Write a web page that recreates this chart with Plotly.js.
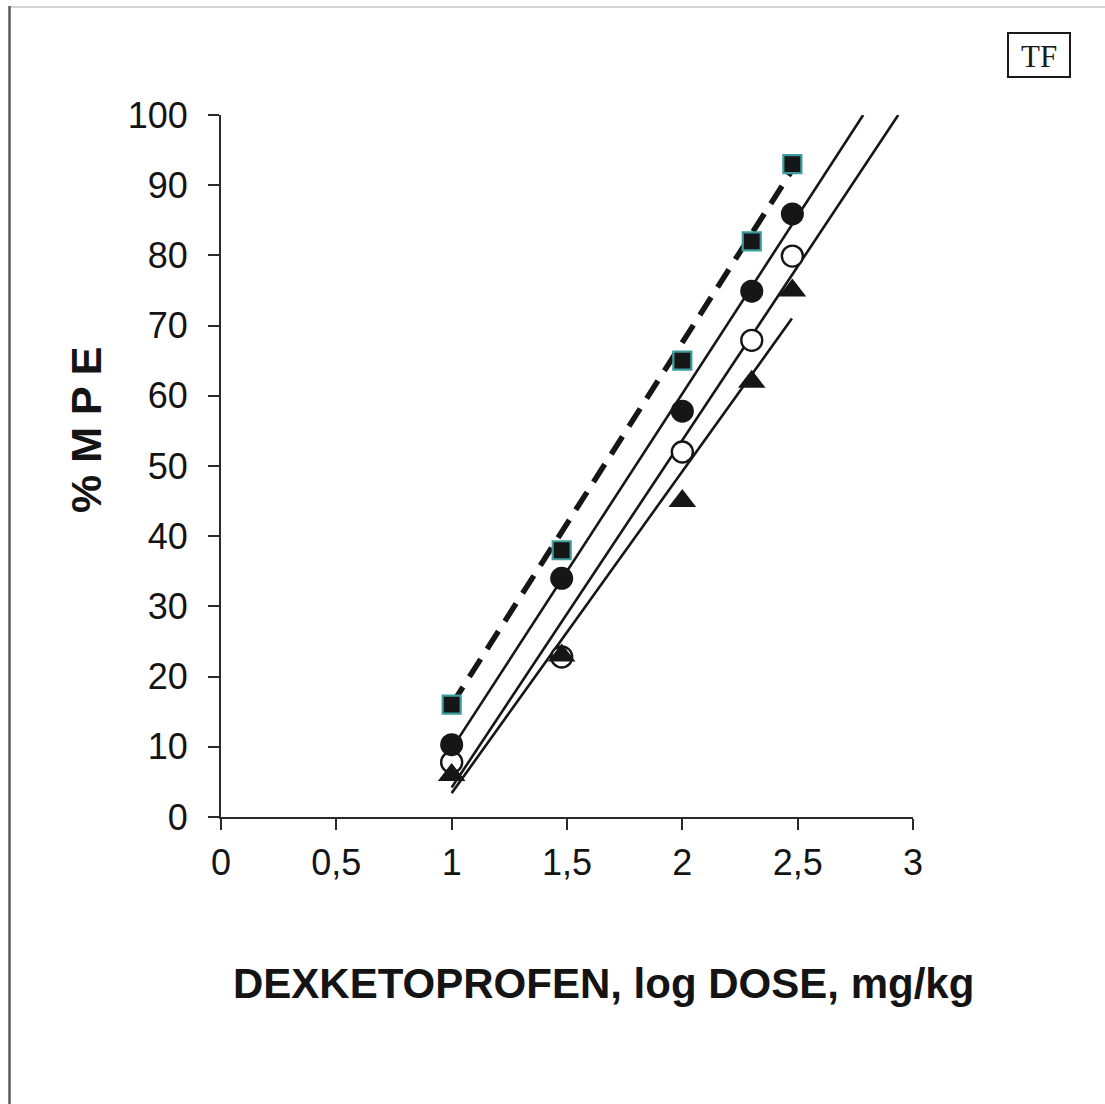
<!DOCTYPE html>
<html><head><meta charset="utf-8">
<script src="https://cdn.plot.ly/plotly-3.0.1.min.js"></script>
<style>
html,body{margin:0;padding:0;background:#fff;}
#chart{position:absolute;left:0;top:0;width:1105px;height:1104px;}
</style></head><body>
<div id="chart"></div>
<script>
// log dose (mg/kg): 10, 30, 100, 200, 300
const logDose = [1, 1.477, 2, 2.301, 2.477];
const squaresMPE = [16, 38, 65, 82, 93];
const filledCirclesMPE = [10.3, 34, 57.8, 74.9, 85.9];
const openCirclesMPE = [7.8, 22.8, 52, 67.9, 79.9];
const trianglesMPE = [6, 23, 45, 62, 75];

// regression lines, end points
const fitSquaresX = [1, 2.477];
const fitSquaresY = [16, 92.2];
const fitFilledX = [1, 2.784];
const fitFilledY = [9.7, 100];
const fitOpenX = [1, 2.936];
const fitOpenY = [4.2, 100];
const fitTriX = [1, 2.475];
const fitTriY = [3.4, 71];

const xTickVals = [0, 0.5, 1, 1.5, 2, 2.5, 3];
const xTickText = ['0', '0,5', '1', '1,5', '2', '2,5', '3'];
const yTickVals = [0, 10, 20, 30, 40, 50, 60, 70, 80, 90, 100];

const W = 1105, H = 1104;
const L = 221, R = 913, T = 115, B = 817;
const px = v => (v - L) / (R - L);
const py = v => (B - v) / (B - T);

const ink = '#161616';
const teal = '#3d9c9c';

const lineStyle = {color: ink, width: 2.6};
const traces = [
  {x: fitTriX, y: fitTriY, mode: 'lines', line: lineStyle, hoverinfo: 'skip'},
  {x: fitOpenX, y: fitOpenY, mode: 'lines', line: lineStyle, hoverinfo: 'skip'},
  {x: fitFilledX, y: fitFilledY, mode: 'lines', line: lineStyle, hoverinfo: 'skip'},
  {x: fitSquaresX, y: fitSquaresY, mode: 'lines', line: {color: ink, width: 5.5, dash: '21px,12px'}, hoverinfo: 'skip'},
  {x: logDose, y: openCirclesMPE, mode: 'markers',
   marker: {symbol: 'circle', size: 21, color: '#ffffff', line: {color: ink, width: 2.4}}},
  {x: logDose, y: trianglesMPE, mode: 'markers',
   marker: {symbol: 'triangle-up', size: 24, color: ink, line: {width: 0}}},
  {x: logDose, y: filledCirclesMPE, mode: 'markers',
   marker: {symbol: 'circle', size: 23, color: ink, line: {width: 0}}},
  {x: logDose, y: squaresMPE, mode: 'markers',
   marker: {symbol: 'square', size: 18, color: ink, line: {color: teal, width: 2.2}}}
];

const tickFont = {family: '"Liberation Sans", Arial, sans-serif', size: 36, color: '#141414'};
const titleFont = {family: '"Liberation Sans", Arial, sans-serif', size: 42, color: '#141414', weight: 'bold'};
const yTitleFont = {family: '"Liberation Sans", Arial, sans-serif', size: 43, color: '#141414', weight: 'bold'};

const layout = {
  width: W, height: H,
  margin: {l: L, r: W - R, t: T, b: H - B, pad: 0},
  paper_bgcolor: '#ffffff', plot_bgcolor: '#ffffff',
  showlegend: false,
  xaxis: {
    range: [0, 3], tickvals: xTickVals, ticktext: xTickText,
    showgrid: false, zeroline: false, showline: true, linecolor: '#2a2a2a', linewidth: 2,
    ticks: 'outside', ticklen: 11, tickwidth: 2, tickcolor: '#2a2a2a',
    tickfont: tickFont, ticklabelstandoff: 2, fixedrange: true
  },
  yaxis: {
    range: [0, 100], tickvals: yTickVals,
    showgrid: false, zeroline: false, showline: true, linecolor: '#2a2a2a', linewidth: 2,
    ticks: 'outside', ticklen: 11, tickwidth: 2, tickcolor: '#2a2a2a',
    tickfont: tickFont, ticklabelstandoff: 13, fixedrange: true
  },
  annotations: [
    {xref: 'paper', yref: 'paper', x: px(603), y: py(984), text: 'DEXKETOPROFEN, log DOSE, mg/kg',
     showarrow: false, font: titleFont, xanchor: 'center', yanchor: 'middle'},
    {xref: 'paper', yref: 'paper', x: px(86), y: py(430), text: '% M P E', textangle: -90,
     showarrow: false, font: yTitleFont, xanchor: 'center', yanchor: 'middle'},
    {xref: 'paper', yref: 'paper', x: px(1039), y: py(56), text: 'TF',
     showarrow: false, font: {family: '"Liberation Serif", "Times New Roman", serif', size: 31, color: '#1a1a1a'},
     xanchor: 'center', yanchor: 'middle'}
  ],
  shapes: [
    {type: 'rect', xref: 'paper', yref: 'paper', x0: px(1008), x1: px(1070), y0: py(33), y1: py(77),
     line: {color: '#1a1a1a', width: 2}, fillcolor: 'rgba(0,0,0,0)'},
    {type: 'line', xref: 'paper', yref: 'paper', x0: px(9), x1: px(1105), y0: py(7), y1: py(7),
     line: {color: '#d4d4d4', width: 2}},
    {type: 'line', xref: 'paper', yref: 'paper', x0: px(9.5), x1: px(9.5), y0: py(6), y1: py(1104),
     line: {color: '#5a5a5a', width: 2.5}}
  ]
};

Plotly.newPlot('chart', traces, layout, {staticPlot: true, displayModeBar: false});
</script>
</body></html>
